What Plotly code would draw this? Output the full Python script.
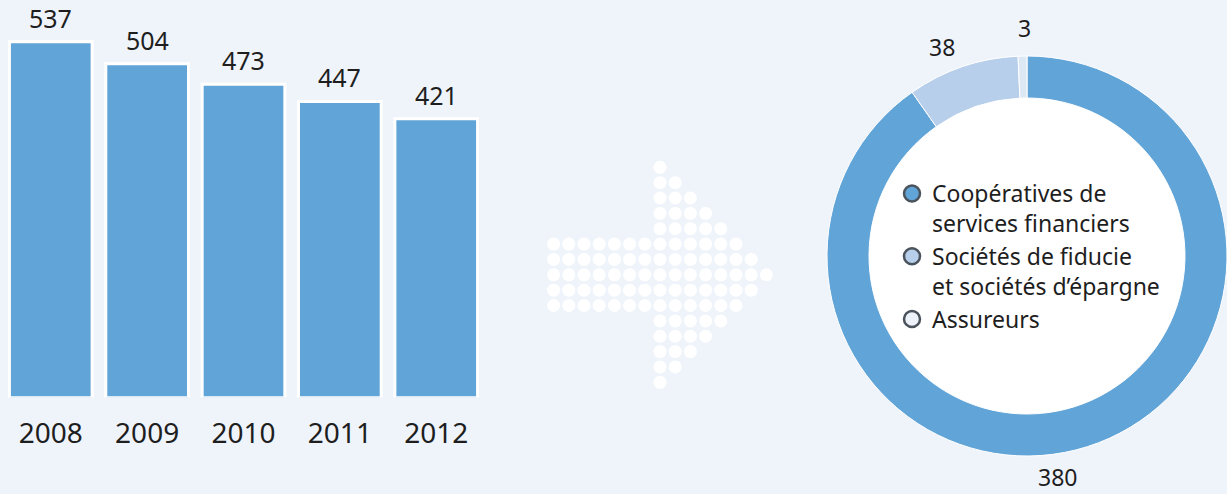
import plotly.graph_objects as go

# ---------------- data ----------------
years = ["2008", "2009", "2010", "2011", "2012"]
counts = [537, 504, 473, 447, 421]

donut_labels = ["Coopératives de<br>services financiers",
                "Sociétés de fiducie<br>et sociétés d’épargne",
                "Assureurs"]
donut_values = [380, 38, 3]

# decorative arrow made of dots: per row, first and last column index
arrow_row_start = [7, 7, 7, 7, 7, 0, 0, 0, 0, 0, 7, 7, 7, 7, 7]
arrow_row_end = [7, 8, 9, 10, 11, 12, 13, 14, 13, 12, 11, 10, 9, 8, 7]

# ---------------- style ----------------
W, H = 1227, 494
BG = "#eff4fb"
BLUE = "#61a4d7"
LIGHT = "#b8cfec"
PALE = "#dde8f5"
TXT = "#1e1e1e"
FONT = "Noto Sans"
donut_colors = [BLUE, LIGHT, PALE]
legend_fill = [BLUE, LIGHT, "#eef3fb"]

fig = go.Figure()

# bars
fig.add_trace(go.Bar(
    x=years, y=counts, xaxis="x", yaxis="y",
    marker=dict(color=BLUE, line=dict(color="white", width=3)),
    showlegend=False, hoverinfo="skip",
))

# arrow dots
ax, ay = [], []
for r, (s, e) in enumerate(zip(arrow_row_start, arrow_row_end)):
    for c in range(s, e + 1):
        ax.append(c)
        ay.append(r)
fig.add_trace(go.Scatter(
    x=ax, y=ay, xaxis="x2", yaxis="y2", mode="markers",
    marker=dict(size=13, color="white"), showlegend=False, hoverinfo="skip",
))

# donut: white disc underneath, then the ring
pie_dom = dict(x=[827 / W, 1.0], y=[1 - 456 / H, 1 - 56 / H])
fig.add_trace(go.Pie(
    values=[1], labels=["_"], domain=pie_dom, marker=dict(colors=["white"]),
    textinfo="none", showlegend=False, hoverinfo="skip", sort=False,
))
fig.add_trace(go.Pie(
    values=donut_values, labels=donut_labels, domain=pie_dom, hole=0.79,
    sort=False, direction="clockwise", rotation=0,
    marker=dict(colors=donut_colors, line=dict(color="white", width=1)),
    textinfo="none", showlegend=False, hoverinfo="skip",
))

# legend entries with circular markers
for lab, col in zip(donut_labels, legend_fill):
    fig.add_trace(go.Scatter(
        x=[None], y=[None], xaxis="x2", yaxis="y2", mode="markers", name=lab,
        marker=dict(size=16, color=col, line=dict(color="#4b535c", width=2.5)),
    ))

annotations = []
# bar value labels (category index positions)
for i, v in enumerate(counts):
    annotations.append(dict(
        x=i, y=v, xref="x", yref="y", text=str(v), showarrow=False,
        yanchor="bottom", yshift=5, font=dict(size=25, color=TXT, family=FONT),
    ))
# donut value labels
donut_label_pos = [(1057, 477), (942, 47), (1024, 28)]
for v, (px, py) in zip(donut_values, donut_label_pos):
    annotations.append(dict(
        x=px / W, y=1 - py / H, xref="paper", yref="paper", text=str(v),
        showarrow=False, xanchor="center", yanchor="middle", borderpad=0,
        font=dict(size=23, color=TXT, family=FONT),
    ))

bar_scale = 0.6627  # px per unit
zero_px = 397.7
fig.update_layout(
    width=W, height=H,
    margin=dict(l=0, r=0, t=0, b=0),
    paper_bgcolor=BG, plot_bgcolor="rgba(0,0,0,0)",
    font=dict(family=FONT, color=TXT),
    bargap=0.142,
    xaxis=dict(domain=[2.6 / W, 484.4 / W], range=[-0.5, 4.5], type="category",
               showgrid=False, zeroline=False, showline=False,
               ticks="", ticklabelstandoff=16,
               tickfont=dict(size=28, color=TXT, family=FONT), fixedrange=True),
    yaxis=dict(domain=[(H - zero_px) / H, 1], range=[0, zero_px / bar_scale],
               visible=False, fixedrange=True),
    xaxis2=dict(domain=[546 / W, 774 / W], range=[-0.5, 14.5], visible=False,
                anchor="y2", fixedrange=True),
    yaxis2=dict(domain=[1 - 390 / H, 1 - 159.6 / H], range=[14.5, -0.5],
                visible=False, anchor="x2", fixedrange=True),
    legend=dict(x=892 / W, y=1 - 172 / H, xanchor="left", yanchor="top",
                bgcolor="rgba(0,0,0,0)", valign="top",
                font=dict(size=23, color=TXT, family=FONT), tracegroupgap=0),
    annotations=annotations,
)

fig.write_html(
    "out.html",
    config={"displayModeBar": False},
    post_script="document.body.style.margin='0';document.body.style.padding='0';"
                "document.body.style.background='" + BG + "';",
)
